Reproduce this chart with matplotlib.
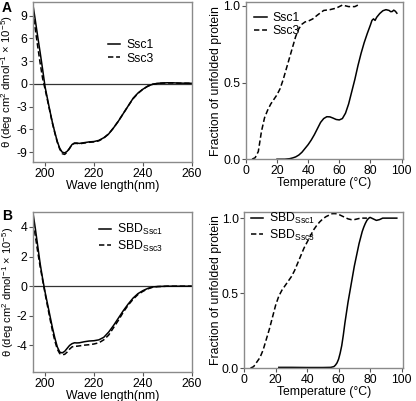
import numpy as np
import matplotlib
matplotlib.use('Agg')
import matplotlib.pyplot as plt

plt.rcParams['font.family'] = ['Liberation Sans', 'DejaVu Sans']
plt.rcParams['mathtext.default'] = 'regular'
plt.rcParams['axes.unicode_minus'] = False
plt.rcParams['font.size'] = 8.8

# CD spectra, panel A
wl_a = [195, 196, 197, 198, 199, 200, 201, 202, 203, 204, 205, 206, 207, 208, 209, 210,
        211, 212, 213, 214, 216, 218, 220, 222, 224, 226, 228, 230, 232, 234, 236, 238,
        240, 242, 244, 246, 248, 250, 252, 255, 260]
cd_ssc1 = [10.5, 8.4, 6.2, 4.1, 1.9, -0.4, -2.0, -3.6, -5.1, -6.4, -7.6, -8.5, -9.0, -9.1,
           -8.9, -8.5, -8.0, -7.8, -7.8, -7.85, -7.75, -7.65, -7.6, -7.45, -7.1, -6.6, -5.8,
           -4.9, -3.9, -2.9, -1.9, -1.2, -0.7, -0.3, -0.05, 0.08, 0.12, 0.15, 0.15, 0.1, 0.08]
cd_ssc3 = [9.6, 7.2, 4.9, 2.7, 0.7, -0.7, -2.2, -3.7, -5.2, -6.5, -7.7, -8.6, -9.2, -9.3,
           -9.0, -8.5, -8.0, -7.85, -7.85, -7.9, -7.8, -7.7, -7.65, -7.5, -7.15, -6.6, -5.8,
           -4.9, -3.9, -2.9, -1.95, -1.25, -0.7, -0.3, -0.05, 0.05, 0.1, 0.12, 0.12, 0.1, 0.08]

# thermal unfolding, panel A
t_ssc3 = [4, 6, 8, 10, 12, 14, 16, 18, 20, 22, 24, 26, 28, 30, 32, 34, 36, 38, 40, 43, 46,
          50, 54, 58, 62, 66, 70, 73]
f_ssc3 = [0.0, 0.01, 0.05, 0.18, 0.27, 0.32, 0.36, 0.39, 0.42, 0.46, 0.52, 0.59, 0.66, 0.73,
          0.80, 0.85, 0.88, 0.895, 0.90, 0.915, 0.94, 0.97, 0.975, 0.985, 1.005, 0.995, 0.995, 1.01]
t_ssc1 = [20, 25, 28, 30, 32, 34, 36, 38, 40, 42, 44, 46, 48, 50, 52, 54, 56, 58, 60, 62, 64,
          66, 68, 70, 72, 74, 76, 78, 80, 81, 82, 83, 84, 86, 88, 90, 92, 93, 94, 95, 96, 97]
f_ssc1 = [0.0, 0.0, 0.003, 0.008, 0.015, 0.027, 0.045, 0.07, 0.095, 0.125, 0.16, 0.2, 0.24,
          0.265, 0.277, 0.276, 0.268, 0.259, 0.256, 0.265, 0.3, 0.36, 0.44, 0.52, 0.61, 0.69,
          0.76, 0.82, 0.875, 0.905, 0.915, 0.905, 0.925, 0.95, 0.968, 0.975, 0.97, 0.962,
          0.963, 0.972, 0.965, 0.952]

# CD spectra, panel B
wl_b = [195, 196, 197, 198, 199, 200, 201, 202, 203, 204, 205, 206, 207, 208, 209, 210, 211,
        212, 213, 214, 216, 218, 220, 222, 224, 226, 228, 230, 232, 234, 236, 238, 240, 242,
        244, 246, 250, 255, 260]
cd_sbd1 = [5.0, 3.9, 2.7, 1.5, 0.5, -0.4, -1.2, -2.0, -2.8, -3.5, -4.1, -4.45, -4.5, -4.4,
           -4.2, -4.0, -3.88, -3.82, -3.83, -3.82, -3.75, -3.7, -3.68, -3.62, -3.45, -3.1,
           -2.65, -2.15, -1.65, -1.2, -0.8, -0.5, -0.3, -0.15, -0.05, -0.02, 0, 0, 0]
cd_sbd3 = [4.3, 3.4, 2.3, 1.3, 0.4, -0.5, -1.35, -2.2, -3.0, -3.7, -4.25, -4.55, -4.62, -4.6,
           -4.45, -4.25, -4.1, -4.05, -4.05, -4.03, -3.98, -3.95, -3.9, -3.82, -3.62, -3.3,
           -2.8, -2.3, -1.75, -1.28, -0.88, -0.56, -0.35, -0.18, -0.07, -0.03, 0, 0, 0]

# thermal unfolding, panel B
t_sbd3 = [4, 6, 8, 10, 12, 14, 16, 18, 20, 22, 24, 26, 28, 30, 32, 34, 36, 38, 40, 42, 44, 46,
          48, 50, 52, 54, 56, 58, 60, 62, 64, 66, 68, 70, 72, 74, 76, 78]
f_sbd3 = [0.0, 0.01, 0.04, 0.07, 0.12, 0.19, 0.26, 0.34, 0.42, 0.48, 0.52, 0.55, 0.58, 0.61,
          0.65, 0.70, 0.75, 0.80, 0.84, 0.88, 0.92, 0.95, 0.975, 0.995, 1.01, 1.02, 1.03, 1.03,
          1.025, 1.015, 1.005, 0.995, 0.99, 0.99, 0.995, 1.0, 1.0, 1.0]
t_sbd1 = [22, 30, 40, 50, 55, 57, 58, 59, 60, 61, 62, 63, 64, 65, 66, 67, 68, 69, 70, 71, 72,
          73, 74, 75, 76, 77, 78, 79, 80, 81, 82, 84, 86, 88, 90, 92, 95, 97]
f_sbd1 = [0.005, 0.005, 0.004, 0.004, 0.005, 0.01, 0.02, 0.035, 0.06, 0.1, 0.15, 0.22, 0.3,
          0.37, 0.44, 0.5, 0.56, 0.62, 0.68, 0.73, 0.78, 0.83, 0.87, 0.91, 0.94, 0.965, 0.985,
          0.998, 1.005, 1.0, 0.995, 0.985, 0.99, 1.0, 1.0, 1.0, 1.0, 1.0]

cd_label = r'$\theta$ (deg cm$^2$ dmol$^{-1}$ × 10$^{-5}$)'
frac_label = 'Fraction of unfolded protein'
dash = (0, (3.5, 1.8))
lw = 1.1
leg_kw = dict(loc='upper left', frameon=False, handlelength=1.0, handletextpad=0.5,
              labelspacing=0.1, borderpad=0.2, fontsize=8.8)

fig = plt.figure(figsize=(4.16, 4.01), dpi=100)
ax_a1 = fig.add_axes([0.079, 0.596, 0.382, 0.399])
ax_a2 = fig.add_axes([0.591, 0.603, 0.378, 0.392])
ax_b1 = fig.add_axes([0.079, 0.072, 0.382, 0.399])
ax_b2 = fig.add_axes([0.587, 0.082, 0.382, 0.389])

for ax in (ax_a1, ax_a2, ax_b1, ax_b2):
    for s in ax.spines.values():
        s.set_color('#8a8a8a')
        s.set_linewidth(1.0)
    ax.tick_params(direction='out', length=3, width=0.8, color='#555555', pad=1,
                   labelsize=8.8)

# A left
ax_a1.axhline(0, color='#333333', lw=0.9)
ax_a1.plot(wl_a, cd_ssc1, color='black', lw=lw, label='Ssc1')
ax_a1.plot(wl_a, cd_ssc3, color='black', lw=lw, ls=dash, label='Ssc3')
ax_a1.set_xlim(195, 260)
ax_a1.set_ylim(-10.3, 10.8)
ax_a1.set_xticks([200, 220, 240, 260])
ax_a1.set_yticks([9, 6, 3, 0, -3, -6, -9])
ax_a1.set_xlabel('Wave length(nm)', labelpad=0)
ax_a1.set_ylabel(cd_label, fontsize=8.2)
ax_a1.yaxis.set_label_coords(-0.11, 0.5)
ax_a1.legend(bbox_to_anchor=(0.42, 0.82), **leg_kw)

# A right
ax_a2.plot(t_ssc1, f_ssc1, color='black', lw=lw, label='Ssc1')
ax_a2.plot(t_ssc3, f_ssc3, color='black', lw=lw, ls=dash, label='Ssc3')
ax_a2.set_xlim(0, 101)
ax_a2.set_ylim(0, 1.025)
ax_a2.set_xticks([0, 20, 40, 60, 80, 100])
ax_a2.set_yticks([0.0, 0.5, 1.0])
ax_a2.set_yticklabels(['0.0', '0.5', '1.0'])
ax_a2.set_xlabel('Temperature (°C)', labelpad=0)
ax_a2.set_ylabel(frac_label)
ax_a2.yaxis.set_label_coords(-0.15, 0.5)
ax_a2.legend(bbox_to_anchor=(0.0, 0.99), **leg_kw)

# B left
ax_b1.axhline(0, color='#333333', lw=0.9)
ax_b1.plot(wl_b, cd_sbd1, color='black', lw=lw, label=r'SBD$_{Ssc1}$')
ax_b1.plot(wl_b, cd_sbd3, color='black', lw=lw, ls=dash, label=r'SBD$_{Ssc3}$')
ax_b1.set_xlim(195, 260)
ax_b1.set_ylim(-5.8, 5.0)
ax_b1.set_xticks([200, 220, 240, 260])
ax_b1.set_yticks([4, 2, 0, -2, -4])
ax_b1.set_xlabel('Wave length(nm)', labelpad=0)
ax_b1.set_ylabel(cd_label, fontsize=8.0)
ax_b1.yaxis.set_label_coords(-0.108, 0.5)
ax_b1.legend(bbox_to_anchor=(0.36, 0.99), **leg_kw)

# B right
ax_b2.plot(t_sbd1, f_sbd1, color='black', lw=lw, label=r'SBD$_{Ssc1}$')
ax_b2.plot(t_sbd3, f_sbd3, color='black', lw=lw, ls=dash, label=r'SBD$_{Ssc3}$')
ax_b2.set_xlim(0, 101)
ax_b2.set_ylim(0, 1.04)
ax_b2.set_xticks([0, 20, 40, 60, 80, 100])
ax_b2.set_yticks([0.0, 0.5, 1.0])
ax_b2.set_yticklabels(['0.0', '0.5', '1.0'])
ax_b2.set_xlabel('Temperature (°C)', labelpad=0)
ax_b2.set_ylabel(frac_label)
ax_b2.yaxis.set_label_coords(-0.14, 0.5)
ax_b2.legend(bbox_to_anchor=(-0.01, 1.06), **leg_kw)

fig.text(0.004, 0.998, 'A', fontsize=10, fontweight='bold', va='top', ha='left')
fig.text(0.004, 0.478, 'B', fontsize=10, fontweight='bold', va='top', ha='left')

fig.savefig('out.png', dpi=100)
